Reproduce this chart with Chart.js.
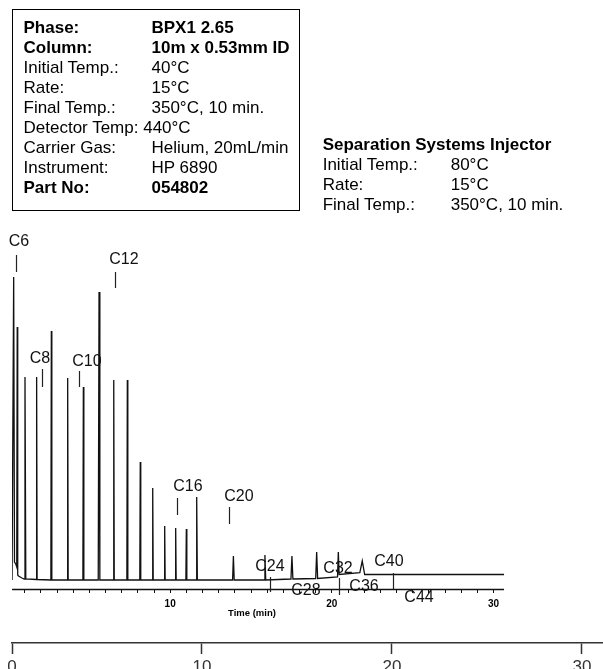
<!DOCTYPE html>
<html><head><meta charset="utf-8">
<script src="https://cdn.jsdelivr.net/npm/chart.js@4.4.1/dist/chart.umd.min.js"></script>
<style>
html,body{margin:0;padding:0;background:#fff;}
body{width:603px;height:669px;position:relative;overflow:hidden;font-family:"Liberation Sans",Arial,Helvetica,sans-serif;color:#000;}
#c{position:absolute;left:0;top:0;}
.spec{position:absolute;font-size:17px;line-height:20px;display:grid;grid-template-columns:128px auto;white-space:nowrap;align-content:start;}
#box{left:12px;top:9px;width:288px;height:202px;box-sizing:border-box;border:1.5px solid #000;padding:8px 0 0 10.5px;}
#inj{left:322.7px;top:135.2px;}
.b{font-weight:bold;}
.wide{grid-column:1 / span 2;}
</style></head>
<body>
<canvas id="c" width="603" height="669"></canvas>
<div class="spec" id="box">
  <div class="b">Phase:</div><div class="b">BPX1 2.65</div>
  <div class="b">Column:</div><div class="b">10m x 0.53mm ID</div>
  <div>Initial Temp.:</div><div>40°C</div>
  <div>Rate:</div><div>15°C</div>
  <div>Final Temp.:</div><div>350°C, 10 min.</div>
  <div class="wide">Detector Temp: 440°C</div>
  <div>Carrier Gas:</div><div>Helium, 20mL/min</div>
  <div>Instrument:</div><div>HP 6890</div>
  <div class="b">Part No:</div><div class="b">054802</div>
</div>
<div class="spec" id="inj">
  <div class="b wide">Separation Systems Injector</div>
  <div>Initial Temp.:</div><div>80°C</div>
  <div>Rate:</div><div>15°C</div>
  <div>Final Temp.:</div><div>350°C, 10 min.</div>
</div>
<script>
// ---- data (time in min, signal in arbitrary units) ----
const runStart = 0.22;
const runEnd = 30.65;
const peakTime      = [0.32, 0.54, 1.02, 1.74, 2.65, 3.66, 4.63, 5.60, 6.51, 7.35, 8.15, 8.92, 9.66, 10.34, 11.00, 11.64, 13.91, 15.86, 17.53, 19.06, 20.40, 21.88];
const peakApex      = [303, 253, 203, 203, 249, 202, 193, 288, 200, 200, 118, 92, 54, 52, 51, 83, 24, 25, 24, 28, 28, 19];
const peakBaseLeft  = [0, 13, 1, 0.5, 0, 0, 0, 0, 0, 0, 0, 0, 0, 0, 0, 0, 0, 0, 1, 1.5, 3, 7.3];
const peakBaseRight = [18, 5, 1, 0.5, 0, 0, 0, 0, 0, 0, 0, 0, 0, 0, 0, 0, 0, 0, 1, 1.5, 5.5, 5.5];
const peakHalfWidth = [0.05, 0.03, 0.05, 0.03, 0.03, 0.03, 0.03, 0.05, 0.03, 0.03, 0.03, 0.03, 0.03, 0.03, 0.03, 0.04, 0.05, 0.05, 0.06, 0.06, 0.05, 0.15];
const baseTime   = [runStart, 0.45, 0.62, 0.83, runEnd];
const baseSignal = [0, 16, 4, 2, 5.5];

const labelNames  = ['C6', 'C8', 'C10', 'C12', 'C16', 'C20', 'C24', 'C28', 'C32', 'C36', 'C40', 'C44'];
const labelTime   = [0.65, 1.95, 4.85, 7.14, 11.10, 14.25, 16.17, 18.40, 20.38, 21.99, 23.53, 25.39];
const labelSignal = [338, 221, 218, 320, 93, 83, 13, -11, 11, -7, 18, -18];
const markerTime   = [0.46, 2.05, 4.34, 6.59, 10.42, 13.62, 16.19, 20.44, 23.76];
const markerTop    = [325, 211, 209, 308, 82, 73, 3, 2, 7];
const markerBottom = [308, 193, 193, 292, 65, 56, -12, -15, -9];

const innerTickLabels = [10, 20, 30];
const outerTickLabels = [0, 10, 20, 30];
const axisTitle = 'Time (min)';
const axisTitleAt = 15.06;

// ---- build trace vertices from the peak table ----
const trace = [];
baseTime.forEach((t, i) => trace.push({x: t, y: baseSignal[i]}));
peakTime.forEach((t, i) => {
  trace.push({x: t - peakHalfWidth[i], y: peakBaseLeft[i]});
  trace.push({x: t, y: peakApex[i]});
  trace.push({x: t + peakHalfWidth[i], y: peakBaseRight[i]});
});
trace.sort((a, b) => a.x - b.x);

const FAM = '"Liberation Sans", Arial, Helvetica, sans-serif';

const annot = {
  id: 'annot',
  afterDraw(chart) {
    const {ctx, scales: {x, y}} = chart;
    ctx.save();
    ctx.strokeStyle = '#111';
    ctx.lineWidth = 1.3;
    ctx.beginPath();
    ctx.moveTo(x.getPixelForValue(runStart), x.top + 0.5);
    ctx.lineTo(x.getPixelForValue(runEnd), x.top + 0.5);
    ctx.stroke();
    ctx.fillStyle = '#000';
    ctx.textAlign = 'center';
    ctx.textBaseline = 'middle';
    ctx.font = 'bold 9.5px ' + FAM;
    ctx.fillText(axisTitle, x.getPixelForValue(axisTitleAt), x.top + 24.3);
    ctx.strokeStyle = '#222';
    ctx.lineWidth = 1.2;
    markerTime.forEach((t, i) => {
      const px = Math.round(x.getPixelForValue(t)) + 0.5;
      ctx.beginPath();
      ctx.moveTo(px, y.getPixelForValue(markerTop[i]));
      ctx.lineTo(px, y.getPixelForValue(markerBottom[i]));
      ctx.stroke();
    });
    ctx.fillStyle = '#111';
    ctx.font = '16px ' + FAM;
    labelNames.forEach((n, i) => ctx.fillText(n, x.getPixelForValue(labelTime[i]), y.getPixelForValue(labelSignal[i])));
    ctx.restore();
  }
};

new Chart(document.getElementById('c'), {
  type: 'line',
  data: {
    datasets: [{
      data: trace,
      borderColor: '#111',
      borderWidth: 1.3,
      pointRadius: 0,
      tension: 0,
      fill: false
    }]
  },
  options: {
    responsive: false,
    animation: false,
    devicePixelRatio: 1,
    layout: {padding: {top: 230, left: 12, right: 0, bottom: 0}},
    plugins: {legend: {display: false}, tooltip: {enabled: false}},
    scales: {
      x: {
        type: 'linear', position: 'bottom', weight: 0,
        min: 0.2165, max: 36.77,
        border: {display: false},
        grid: {drawOnChartArea: false, drawTicks: true, tickLength: 4, tickWidth: 1, tickColor: '#111'},
        ticks: {
          stepSize: 1, includeBounds: false, autoSkip: false, maxRotation: 0, padding: 5,
          color: '#000', font: {family: FAM, size: 10, weight: 'bold'},
          callback: v => innerTickLabels.includes(v) ? String(v) : ''
        },
        afterBuildTicks: s => { s.ticks = s.ticks.filter(t => t.value <= 30); },
        afterFit: s => { s.height = 54; s.paddingLeft = 0; s.paddingRight = 0; }
      },
      x2: {
        type: 'linear', position: 'bottom', weight: 1,
        min: 0, max: 31.11,
        border: {display: true, color: '#333', width: 1.5},
        grid: {drawOnChartArea: false, drawTicks: true, tickLength: 11, tickWidth: 1.5, tickColor: '#333'},
        ticks: {
          stepSize: 10, includeBounds: false, autoSkip: false, maxRotation: 0, padding: 3.5,
          color: '#333', font: {family: FAM, size: 17},
          callback: v => outerTickLabels.includes(v) ? String(v) : ''
        },
        afterFit: s => { s.height = 26; s.paddingLeft = 0; s.paddingRight = 0; }
      },
      y: {display: false, min: -9, max: 350}
    }
  },
  plugins: [annot]
});
</script>
</body></html>
